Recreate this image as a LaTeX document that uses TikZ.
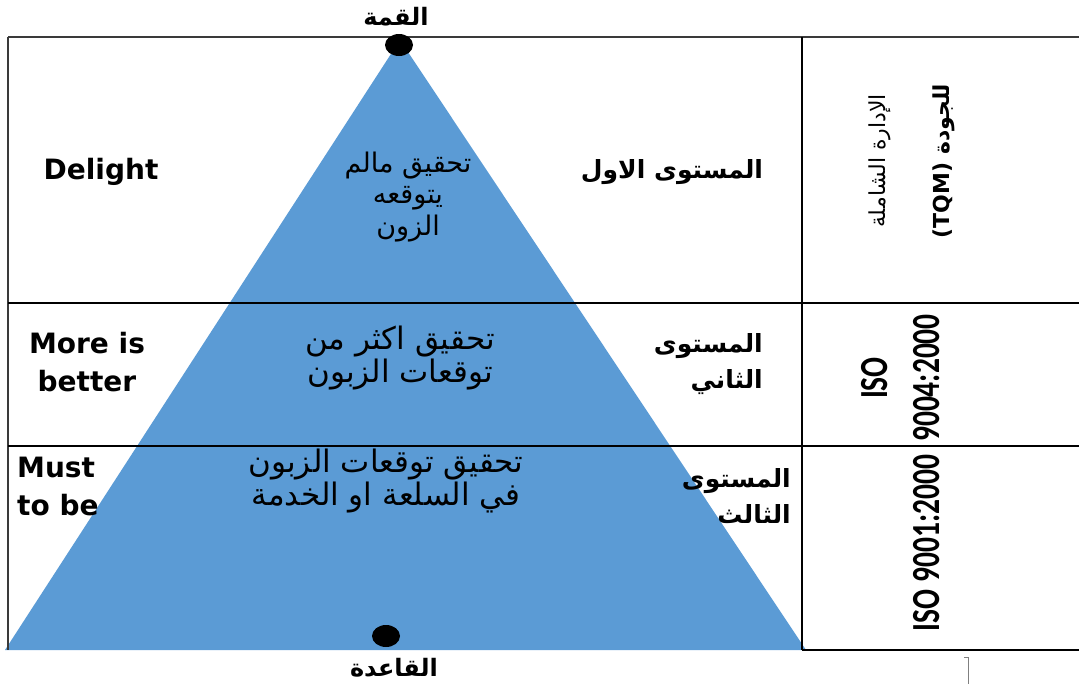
\documentclass[tikz,border=0pt]{standalone}
\usepackage{fontspec}
\usetikzlibrary{shapes.geometric}
\setmainfont{DejaVu Sans}
\newfontfamily\arabicfont[Script=Arabic]{DejaVu Sans}
\newfontfamily\isofont{Carlito}
\TeXXeTstate=1
\definecolor{triblue}{HTML}{5B9BD5}
\definecolor{rulegray}{HTML}{3A3A3A}
\begin{document}
\begin{tikzpicture}[x=1pt,y=-1pt,
  rule/.style={draw=rulegray,line width=1.6pt},
  thinrule/.style={draw=black,line width=1.2pt},
  dotmark/.style={ellipse,fill=black,minimum width=28pt,minimum height=22pt,inner sep=0pt},
  artext/.style={font=\arabicfont\fontsize{27}{31.5}\selectfont,align=center,inner sep=0pt},
  artextbig/.style={font=\arabicfont\fontsize{31}{32.5}\selectfont,align=center,inner sep=0pt},
  arbold/.style={font=\arabicfont\bfseries\fontsize{25}{35.5}\selectfont,inner sep=0pt},
  lattext/.style={font=\bfseries\fontsize{28}{38}\selectfont,inner sep=0pt},
  isotext/.style={font=\isofont\bfseries\fontsize{29.5}{38.5}\selectfont,rotate=90,yscale=1.35,align=center,inner sep=0pt},
  tqmtext/.style={font=\arabicfont\fontsize{22}{64}\selectfont,rotate=90,align=center,inner sep=0pt}]
\useasboundingbox (0,0) rectangle (1079,686);
% pyramid
\fill[triblue] (5,650) -- (400,40) -- (806,650) -- cycle;
% table rules
\draw[rule] (8,37) -- (1079,37);
\draw[rule] (8,37) -- (8,650);
\draw[thinrule] (802,37) -- (802,650);
\draw[thinrule] (8,303) -- (1079,303);
\draw[thinrule] (8,446) -- (1079,446);
\draw[thinrule] (802,650) -- (1079,650);
% little mark
\draw[gray,line width=1pt] (964,657) -- (968,657) -- (968,684);
% dots
\node[dotmark] (apex) at (399,45) {};
\node[dotmark] (base) at (386,636) {};
% top / bottom labels
\node[arbold,font=\arabicfont\bfseries\fontsize{24}{30}\selectfont] (qimma) at (396,17) {\beginR القمة\endR};
\node[arbold,font=\arabicfont\bfseries\fontsize{24}{30}\selectfont] (qaida) at (394,668) {\beginR القاعدة\endR};
% left column
\node[lattext] (delight) at (101,172) {Delight};
\node[lattext,align=center] (more) at (87,362) {More is\\better};
\node[lattext,align=left,anchor=west] (must) at (17,486) {Must\\to be};
% pyramid texts
\node[artext] (t1) at (408,197) {\beginR تحقيق مالم\endR\\\beginR يتوقعه\endR\\\beginR الزون\endR};
\node[artextbig] (t2) at (400,358) {\beginR تحقيق اكثر من\endR\\\beginR توقعات الزبون\endR};
\node[artextbig] (t3) at (386,481) {\beginR تحقيق توقعات الزبون\endR\\\beginR في السلعة او الخدمة\endR};
% level labels
\node[arbold] (l1) at (672,172) {\beginR المستوى الاول\endR};
\node[arbold,align=right,anchor=east] (l2) at (763,364) {\beginR المستوى\endR\\\beginR الثاني\endR};
\node[arbold,align=right,anchor=east] (l3) at (791,496) {\beginR المستوى\endR\\\beginR الثالث\endR};
% right column
\node[tqmtext] (tqm) at (912,161) {\beginR الإدارة الشاملة\endR\\\bfseries\beginR للجودة \beginL(TQM)\endL\endR};
\node[isotext] (iso2) at (901,378) {ISO\\9004:2000};
\node[isotext] (iso3) at (927,543) {ISO 9001:2000};
\end{tikzpicture}
\end{document}
